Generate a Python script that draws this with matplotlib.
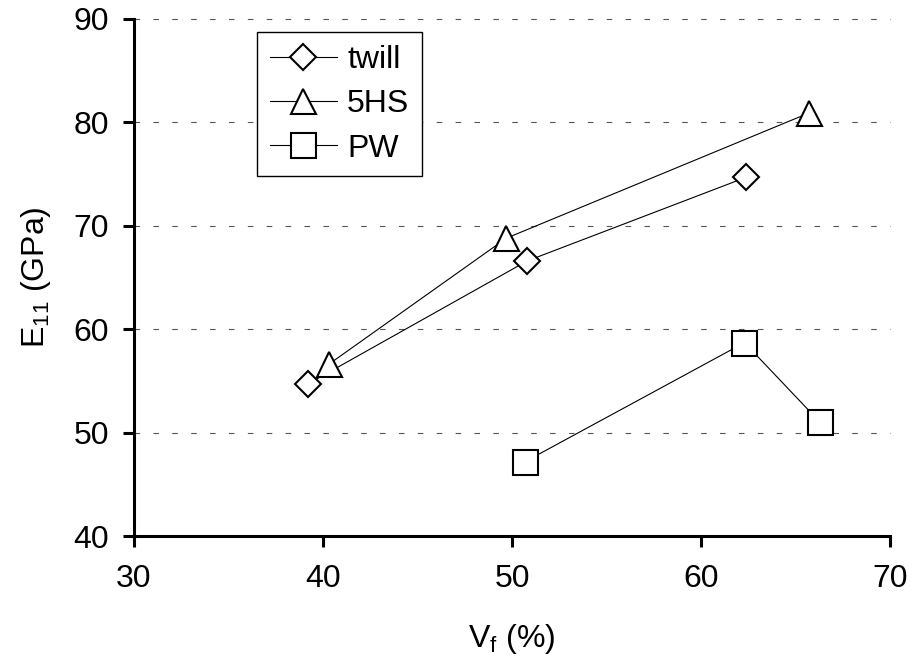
import matplotlib
matplotlib.use("Agg")
import matplotlib.pyplot as plt

plt.rcParams["font.family"] = ["Liberation Sans", "DejaVu Sans"]
plt.rcParams["mathtext.default"] = "regular"

# data
twill_vf = [39.2, 50.8, 62.4]
twill_e = [54.7, 66.6, 74.7]
hs5_vf = [40.3, 49.7, 65.7]
hs5_e = [56.6, 68.8, 80.9]
pw_vf = [50.7, 62.3, 66.3]
pw_e = [47.2, 58.7, 51.0]

x_ticks = [30, 40, 50, 60, 70]
y_ticks = [40, 50, 60, 70, 80, 90]

fs = 23

fig = plt.figure(figsize=(9.15, 6.66), dpi=100)
ax = fig.add_axes([134 / 915, 1 - 536 / 666, 756 / 915, 517 / 666])

style = dict(color="black", lw=0.8, mfc="white", mec="black", mew=1.5)
ax.plot(twill_vf, twill_e, marker="D", ms=13, label="twill", **style)
ax.plot(hs5_vf, hs5_e, marker="^", ms=18, label="5HS", **style)
ax.plot(pw_vf, pw_e, marker="s", ms=18, label="PW", **style)

ax.set_xlim(30, 70)
ax.set_ylim(40, 90)
ax.set_xticks(x_ticks)
ax.set_yticks(y_ticks)

# dashed grid, top line included in place of the top spine
for y in y_ticks[1:]:
    ax.axhline(y, color="#555555", lw=0.8, ls=(0, (5, 12)), zorder=0, clip_on=False)

for side in ["top", "right"]:
    ax.spines[side].set_visible(False)
for side in ["left", "bottom"]:
    ax.spines[side].set_linewidth(2.2)

ax.tick_params(axis="both", direction="out", length=8, width=2.2, labelsize=fs)
ax.tick_params(axis="x", pad=12)
ax.tick_params(axis="y", pad=10)

ax.set_xlabel("V$_f$ (%)", fontsize=fs, labelpad=20)
ax.set_ylabel("E$_{11}$ (GPa)", fontsize=fs, labelpad=15)

leg = ax.legend(loc="upper left", bbox_to_anchor=(257 / 915, 1 - 32 / 666),
                bbox_transform=fig.transFigure, fontsize=fs, frameon=True,
                fancybox=False, handlelength=2.1, handletextpad=0.32,
                labelspacing=0.45, borderpad=0.4, borderaxespad=0)
leg.get_frame().set_edgecolor("black")
leg.get_frame().set_linewidth(1.0)
leg.get_frame().set_alpha(1)

fig.savefig("out.png", dpi=100)
